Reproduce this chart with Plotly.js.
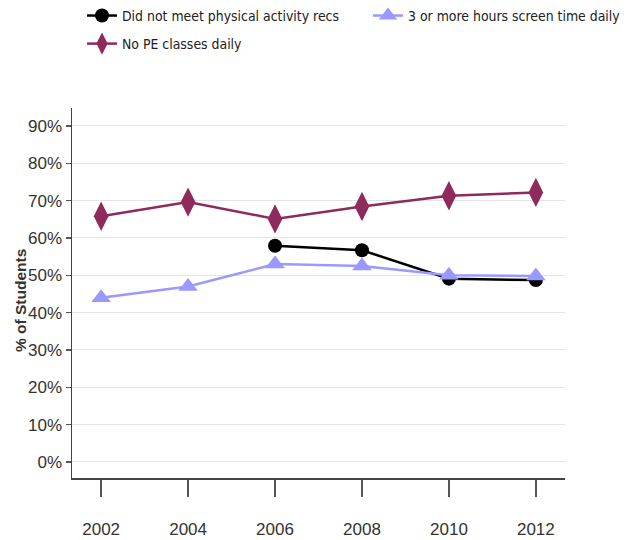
<!DOCTYPE html>
<html>
<head>
<meta charset="utf-8">
<script src="https://cdn.plot.ly/plotly-3.0.1.min.js"></script>
<style>
  html, body { margin: 0; padding: 0; background: #fff; }
  #chart { width: 633px; height: 540px; }
</style>
</head>
<body>
<div id="chart"></div>
<script>
// Survey years
const years = [2002, 2004, 2006, 2008, 2010, 2012];
const tickLabels = ['2002', '2004', '2006', '2008', '2010', '2012'];

// Percent of students (null = not asked that year)
const physActivity = [null, null, 57.9, 56.7, 49.1, 48.7];
const screenTime = [44.0, 47.0, 53.0, 52.5, 50.0, 49.8];
const noPE = [65.8, 69.6, 65.1, 68.4, 71.3, 72.2];

const seriesNames = [
  'Did not meet physical activity recs',
  '3 or more hours screen time daily',
  'No PE classes daily'
];

const yTitle = '% of Students';
const yTicks = [0, 10, 20, 30, 40, 50, 60, 70, 80, 90];
const yTickText = yTicks.map(v => v + '%');

const axisFont = { family: '"Liberation Sans Narrow", "Arial Narrow", "Liberation Sans", Arial, sans-serif', size: 17, color: '#333333' };
const legendFont = { family: '"DejaVu Sans Condensed", "DejaVu Sans", sans-serif', size: 13.9, color: '#222222' };

const traces = [
  {
    x: years, y: physActivity, name: seriesNames[0],
    type: 'scatter', mode: 'lines+markers', connectgaps: false,
    legend: 'legend', legendgroup: 'a',
    line: { color: '#000000', width: 2.5 },
    marker: { symbol: 'circle', size: 14, color: '#000000' }
  },
  {
    x: years, y: screenTime, name: seriesNames[1],
    type: 'scatter', mode: 'lines+markers',
    legend: 'legend2', legendgroup: 'b',
    line: { color: '#9999ff', width: 2.5 },
    marker: { symbol: 'triangle-up', size: 17, color: '#9999ff' }
  },
  {
    x: years, y: noPE, name: seriesNames[2],
    type: 'scatter', mode: 'lines+markers',
    legend: 'legend', legendgroup: 'c',
    line: { color: '#8e2a5c', width: 2.5 },
    marker: { symbol: 'diamond-tall', size: 21, color: '#8e2a5c' }
  }
];

const layout = {
  width: 633, height: 540,
  paper_bgcolor: '#ffffff', plot_bgcolor: '#ffffff',
  margin: { l: 72, r: 68, t: 108, b: 62, autoexpand: false },
  showlegend: true,
  legend: {
    orientation: 'v',
    xref: 'container', yref: 'container',
    x: 82 / 633, y: 1, xanchor: 'left', yanchor: 'top',
    traceorder: 'grouped', tracegroupgap: 7,
    font: legendFont,
    bgcolor: 'rgba(0,0,0,0)'
  },
  legend2: {
    orientation: 'v',
    xref: 'container', yref: 'container',
    x: 368 / 633, y: 1, xanchor: 'left', yanchor: 'top',
    font: legendFont,
    bgcolor: 'rgba(0,0,0,0)'
  },
  xaxis: {
    range: [2001.33, 2012.67],
    tickvals: years, ticktext: tickLabels,
    ticks: 'outside', ticklen: 17, tickwidth: 1.5, tickcolor: '#555555',
    showline: true, linecolor: '#444444', linewidth: 1.5,
    showgrid: false, zeroline: false,
    ticklabelstandoff: 18,
    tickfont: axisFont
  },
  yaxis: {
    range: [-4.3, 94.8],
    tickvals: yTicks, ticktext: yTickText,
    ticks: 'outside', ticklen: 5, tickwidth: 1.5, tickcolor: '#555555',
    showline: true, linecolor: '#444444', linewidth: 1.5,
    showgrid: true, gridcolor: '#e4e4e4', gridwidth: 1,
    zeroline: false,
    tickfont: axisFont
  },
  // vertical axis caption, placed left of the tick labels
  annotations: [
    {
      text: '<b>' + yTitle + '</b>',
      xref: 'paper', yref: 'paper',
      x: -0.1055, y: 0.481,
      xanchor: 'center', yanchor: 'middle',
      textangle: -90, showarrow: false,
      font: { family: '"Liberation Sans", Arial, sans-serif', size: 15.5, color: '#333333' }
    }
  ]
};

Plotly.newPlot('chart', traces, layout, { displayModeBar: false, staticPlot: true });
</script>
</body>
</html>
